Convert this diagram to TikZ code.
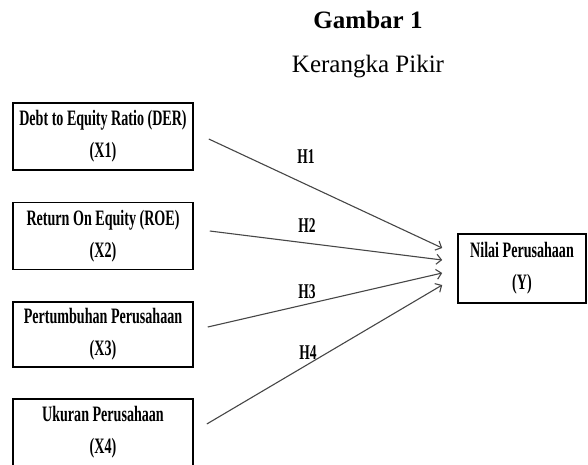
\documentclass[tikz,border=0pt]{standalone}
\usepackage{fontspec}
\setmainfont{Liberation Serif}
\newfontfamily\boxfont[FakeStretch=0.64]{Liberation Serif}
\usetikzlibrary{calc,arrows.meta}
\definecolor{arrowGray}{RGB}{70,70,70}

\begin{document}
\begin{tikzpicture}[x=1pt, y=-1pt,
        varbox/.style={draw, line width=1.6pt, minimum width=180pt, minimum height=67pt,
            align=center, inner sep=0pt, font=\boxfont\bfseries\fontsize{22}{32}\selectfont},
        hyp/.style={anchor=base, font=\boxfont\bfseries\fontsize{21}{24}\selectfont},
        arr/.style={draw=arrowGray, line width=1.1pt, -{Straight Barb[length=5pt,width=10pt]}}]
        \useasboundingbox (0, 0) rectangle (588, 464);

        \node[anchor=base, font=\bfseries\fontsize{25}{30}\selectfont] (title) at (368, 28) {Gambar 1};
        \node[anchor=base, font=\fontsize{25}{30}\selectfont] (subtitle) at (368, 72) {Kerangka Pikir};

        \node[varbox] (x1) at (103, 136.5) {Debt to Equity Ratio (DER)\\(X1)};
        \node[varbox] (x2) at (103, 236) {Return On Equity (ROE)\\(X2)};
        \node[varbox, minimum height=65pt] (x3) at (103, 334.5) {Pertumbuhan Perusahaan\\(X3)};
        \node[varbox] (x4) at (103, 432.5) {Ukuran Perusahaan\\(X4)};

        \node[varbox, minimum width=128pt, minimum height=69pt] (y) at (522, 268.5) {Nilai Perusahaan\\(Y)};

        \draw[arr] ($(x1.east)+(15, 2.5)$) -- ($(y.west)+(-15, -20.5)$);
        \draw[arr] ($(x2.east)+(16, -5)$) -- ($(y.west)+(-15, -8.5)$);
        \draw[arr] ($(x3.east)+(14, -7.5)$) -- ($(y.west)+(-15, 4.5)$);
        \draw[arr] ($(x4.east)+(13, -8.5)$) -- ($(y.west)+(-15, 16.5)$);

        \node[hyp] (h1) at (306, 163) {H1};
        \node[hyp] (h2) at (307, 232) {H2};
        \node[hyp] (h3) at (307, 298) {H3};
        \node[hyp] (h4) at (308, 359) {H4};
    \end{tikzpicture}
\end{document}
